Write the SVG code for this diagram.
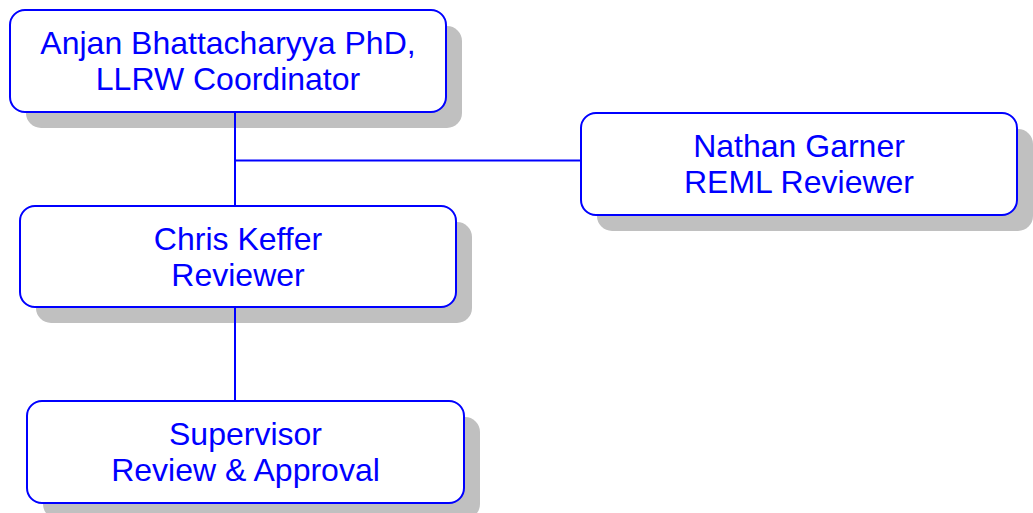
<svg xmlns="http://www.w3.org/2000/svg" width="1033" height="513" viewBox="0 0 1033 513">
<style>
.shadow{fill:#c0c0c0;stroke:none}
.box{fill:#ffffff;stroke:#0000ff;stroke-width:2}
.lbl{font-family:"Liberation Sans",Arial,sans-serif;font-size:32px;fill:#0000ff;text-anchor:middle}
.conn{stroke:#0000ff;stroke-width:2;fill:none}
</style>
<rect width="1033" height="513" fill="#ffffff"/>
<g id="node-anjan">
<rect class="shadow" x="26" y="26" width="436" height="102" rx="15"/>
<rect class="box" x="10" y="10" width="436" height="102" rx="15"/>
<text class="lbl" x="228" y="54">Anjan Bhattacharyya PhD,</text>
<text class="lbl" x="228" y="90">LLRW Coordinator</text>
</g>
<g id="node-nathan">
<rect class="shadow" x="597" y="129" width="436" height="102" rx="15"/>
<rect class="box" x="581" y="113" width="436" height="102" rx="15"/>
<text class="lbl" x="799" y="157">Nathan Garner</text>
<text class="lbl" x="799" y="193">REML Reviewer</text>
</g>
<g id="node-chris">
<rect class="shadow" x="36" y="222" width="436" height="101" rx="15"/>
<rect class="box" x="20" y="206" width="436" height="101" rx="15"/>
<text class="lbl" x="238" y="250">Chris Keffer</text>
<text class="lbl" x="238" y="286">Reviewer</text>
</g>
<g id="node-supervisor">
<rect class="shadow" x="43" y="417" width="437" height="102" rx="15"/>
<rect class="box" x="27" y="401" width="437" height="102" rx="15"/>
<text class="lbl" x="245.5" y="445">Supervisor</text>
<text class="lbl" x="245.5" y="481">Review &amp; Approval</text>
</g>
<g id="connectors">
<line class="conn" x1="235" y1="113" x2="235" y2="205"/>
<line class="conn" x1="235" y1="160.5" x2="580" y2="160.5"/>
<line class="conn" x1="235" y1="308" x2="235" y2="400"/>
</g>
</svg>
